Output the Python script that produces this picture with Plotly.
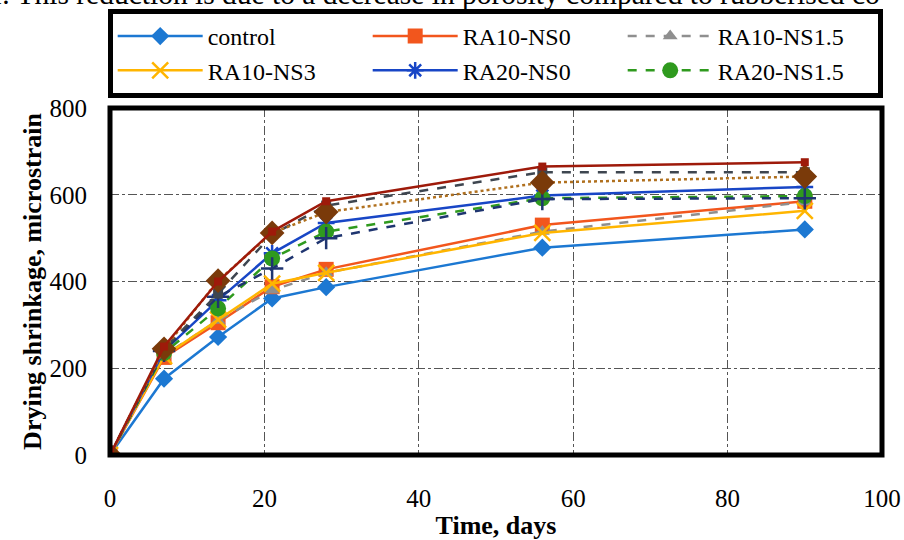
import plotly.graph_objects as go

# Drying shrinkage measurements (microstrain) at each test age (days)
days = [0, 7, 14, 21, 28, 56, 90]

control = [0, 176, 272, 361, 387, 478, 520]
ra10_ns0 = [0, 225, 305, 388, 428, 530, 585]
ra10_ns15 = [0, 230, 310, 380, 420, 515, 583]
ra10_ns3 = [0, 228, 312, 395, 420, 512, 563]
ra20_ns0 = [0, 240, 357, 465, 535, 598, 618]
ra20_ns15 = [0, 235, 338, 453, 515, 592, 597]
ra20_ns3 = [0, 240, 365, 430, 500, 590, 592]
ra30_ns0 = [0, 250, 400, 515, 585, 665, 675]
ra30_ns15 = [0, 245, 372, 508, 575, 652, 652]
ra30_ns3 = [0, 245, 402, 512, 560, 628, 642]

series = [
    # name, values, colour, dash, symbol, marker size, in legend
    ("control", control, "#1C78D2", "solid", "diamond", 14, True),
    ("RA10-NS0", ra10_ns0, "#F2561D", "solid", "square", 15, True),
    ("RA10-NS1.5", ra10_ns15, "#8F8F8F", "dash", "triangle-up", 13, True),
    ("RA10-NS3", ra10_ns3, "#FFB500", "solid", "x-thin-open", 16, True),
    ("RA20-NS0", ra20_ns0, "#1846C6", "solid", "asterisk-open", 14, True),
    ("RA20-NS1.5", ra20_ns15, "#2F9A1E", "dash", "circle", 16, True),
    ("RA20-NS3", ra20_ns3, "#1F3570", "dash", "cross-thin-open", 16, False),
    ("RA30-NS1.5", ra30_ns15, "#3E4650", "dash", "square", 10, False),
    ("RA30-NS3", ra30_ns3, "#B0701E", "dot", "diamond", 19, False),
    ("RA30-NS0", ra30_ns0, "#9E1A0A", "solid", "square", 8, False),
]

fig = go.Figure()
for name, vals, color, dash, symbol, size, show in series:
    mcolor = "#7A3A0A" if name == "RA30-NS3" else color
    fig.add_trace(go.Scatter(
        x=days, y=vals, name=name, mode="lines+markers",
        line=dict(color=color, width=2.5, dash=dash),
        marker=dict(symbol=symbol, size=size, color=mcolor,
                    line=dict(color=mcolor, width=2.5 if "open" in symbol else 0)),
        showlegend=show,
    ))

serif = "Liberation Serif"

fig.update_layout(
    width=904, height=540,
    margin=dict(l=110, r=22, t=108, b=85, autoexpand=False),
    paper_bgcolor="white", plot_bgcolor="white",
    font=dict(family=serif, size=25, color="black"),
    showlegend=True,
    legend=dict(
        orientation="h", x=-0.003, xanchor="left", y=1.2853, yanchor="top",
        bordercolor="black", borderwidth=5, bgcolor="white",
        font=dict(family=serif, size=24, color="black"),
        itemwidth=85, entrywidth=155, entrywidthmode="pixels",
        traceorder="normal",
    ),
    xaxis=dict(
        range=[0, 100], tickvals=[0, 20, 40, 60, 80, 100],
        showgrid=True, gridcolor="#555555", griddash="dashdot", gridwidth=1.2,
        zeroline=False, showline=False, ticks="", ticklabelstandoff=26,
        title=dict(text="<b>Time, days</b>", font=dict(family=serif, size=26), standoff=4),
        tickfont=dict(family=serif, size=25),
    ),
    yaxis=dict(
        range=[0, 800], tickvals=[0, 200, 400, 600, 800],
        showgrid=True, gridcolor="#555555", griddash="dashdot", gridwidth=1.2,
        zeroline=False, showline=False, ticks="", ticklabelstandoff=22,
        title=dict(text="<b>Drying shrinkage, microstrain</b>", font=dict(family=serif, size=26), standoff=0),
        tickfont=dict(family=serif, size=25),
    ),
    shapes=[dict(type="rect", xref="paper", yref="paper", x0=0, x1=1, y0=0, y1=1,
                 line=dict(color="black", width=5), layer="above")],
    annotations=[dict(
        text="r. This reduction is due to a decrease in porosity compared to rubberised co",
        xref="paper", yref="paper", x=-0.153, y=1.2767, xanchor="left", yanchor="bottom",
        showarrow=False, font=dict(family=serif, size=29.5, color="black"),
    )],
)

fig.write_html("out.html")
